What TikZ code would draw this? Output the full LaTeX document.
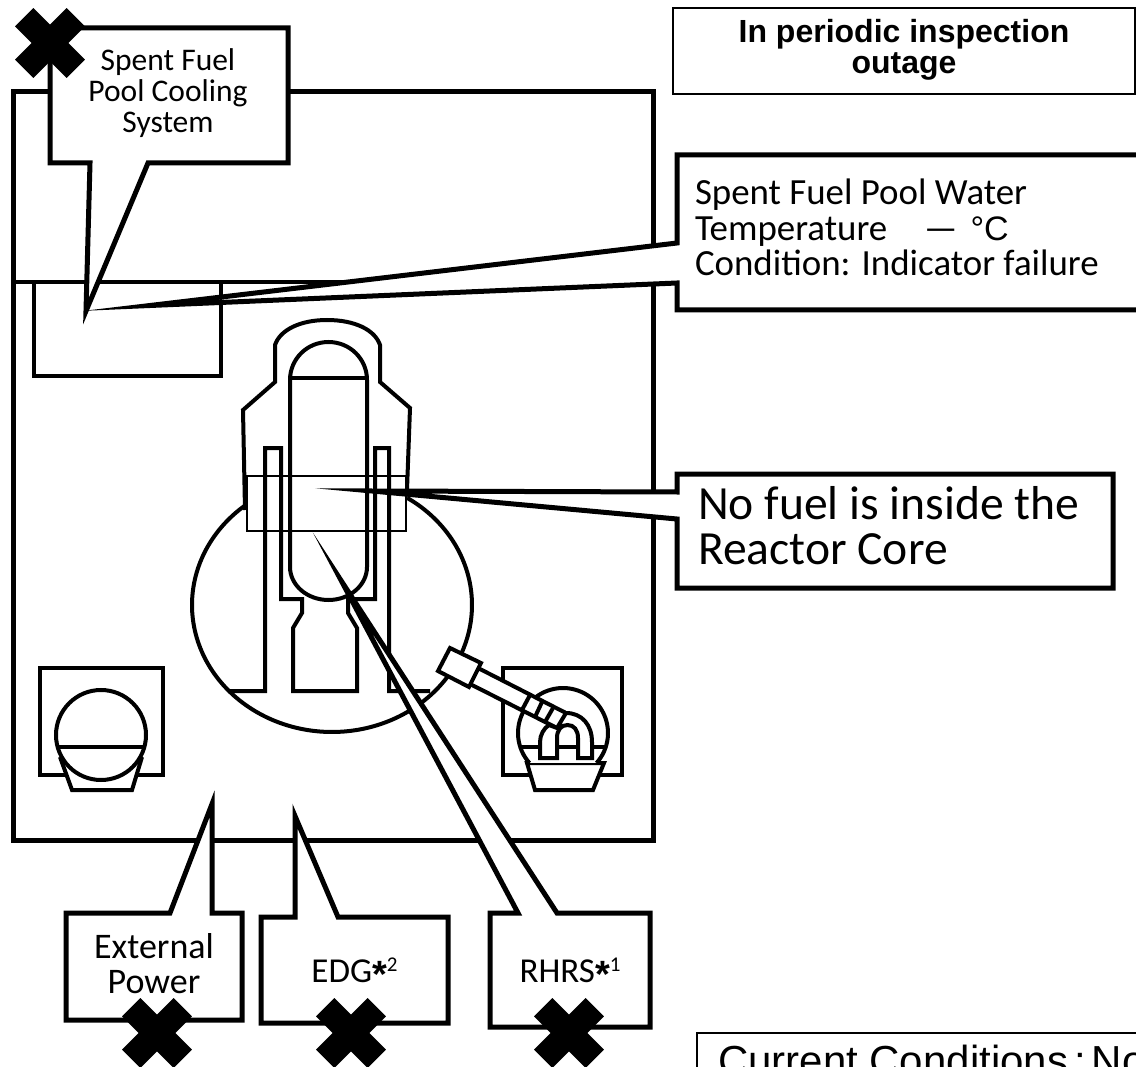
\documentclass[tikz,border=0pt]{standalone}
\usepackage{fontspec}
\setmainfont{Carlito}
\newfontfamily\arialfont{Liberation Sans}
\tikzset{
  wall/.style={draw=black,line width=5pt,line join=miter},
  part/.style={draw=black,line width=4pt,line join=miter},
  thinpart/.style={draw=black,line width=2.8pt},
  callout/.style={draw=black,fill=white,line width=5pt,line join=miter,miter limit=40},
  cross/.style={draw=black,line width=26pt,line cap=butt},
  lbl/.style={inner sep=0pt,outer sep=0pt,align=center,text=black},
  lbll/.style={inner sep=0pt,outer sep=0pt,anchor=base west,text=black},
}
\newcommand{\supmark}[1]{\raisebox{-5pt}{\arialfont\bfseries\fontsize{38}{38}\selectfont *}\raisebox{11pt}{\fontsize{21}{22}\selectfont #1}}
\begin{document}
\begin{tikzpicture}[x=1pt,y=-1pt]
\useasboundingbox (0,0) rectangle (1136,1067);
\clip (0,0) rectangle (1136,1067);
\fill[white] (0,0) rectangle (1136,1067);
% building
\draw[wall] (13,92) rectangle (653,840);
\draw[thinpart,line width=3.4pt] (13,282) -- (653,282);
\draw[part,line width=3.4pt] (34,282) -- (34,376) -- (221,376) -- (221,282);
% top containment
\draw[part] (245,510) -- (243,410) -- (275,382) -- (275,345)
  .. controls (280,330) and (300,320) .. (327,320)
  .. controls (355,320) and (375,330) .. (380,345)
  -- (380,382) -- (410,408) -- (407,490);
% drywell
\draw[part] plot[domain=-57.6:232,samples=90,smooth] ({332+140*cos(\x)},{605+127*sin(\x)});
% vessel
\draw[part] (290,380) .. controls (290,359) and (307,342) .. (328.5,342)
  .. controls (350,342) and (367,359) .. (367,380) -- (367,567)
  .. controls (367,585) and (350,600) .. (328.5,600)
  .. controls (307,600) and (290,585) .. (290,567) -- cycle;
\draw[part] (291,378) -- (366,378);
% pedestal and pillars
\draw[part] (228,691) -- (265,691) -- (265,448) -- (281,448) -- (281,599) -- (302,599) -- (302,613)
  -- (293,628) -- (293,691) -- (357,691) -- (357,628) -- (348,613) -- (348,599) -- (375,599)
  -- (375,448) -- (389,448) -- (389,691) -- (430,691);
% band
\draw[thinpart] (247,476) rectangle (406,531);
% left steam generator
\draw[part] (40,668) rectangle (163,775);
\draw[part,fill=white] (60,757) -- (72,790) -- (132,790) -- (142,757);
\draw[part,fill=white] (101,735) circle[radius=45];
\draw[part] (57,747) -- (145,747);
% right steam generator
\draw[part] (503,668) rectangle (622,775);
\fill[white] (563,733) circle[radius=45];
\draw[part,fill=white] (527,763) -- (535,790) -- (593,790) -- (604,763) -- cycle;
\fill[white] (530,763) rectangle (597,740);
\draw[part] plot[domain=138.2:401.8,samples=60,smooth] ({563+45*cos(\x)},{733+45*sin(\x)});
\draw[part] (520,747) -- (606,747);
% pipe and nozzle
\fill[white] (478,668) -- (566,713) -- (557,728) -- (470,684) -- cycle;
\draw[part] (478,668) -- (566,713);
\draw[part] (470,684) -- (557,728);
\draw[part,fill=white] (450,648) -- (481,663) -- (469,687) -- (438,671) -- cycle;
\draw[part] (530,695) -- (522,710);
\draw[part] (542,702) -- (535,717);
\draw[part] (553,708) -- (545,722);
% U tube
\draw[part,fill=white] (540,758) -- (540,742) .. controls (540,735) and (544,728) .. (549,725)
  -- (557,728) -- (566,713) .. controls (582,713) and (592,725) .. (592,742) -- (592,758)
  -- (578,758) -- (578,738) .. controls (578,730) and (574,725) .. (567.5,725)
  .. controls (561,725) and (557,730) .. (557,738) -- (557,758) -- cycle;
\draw[part] (557,747) -- (578,747);
% callouts
\coordinate (tipWater) at (150,305.5);
\coordinate (tipFuel) at (86,311);
\coordinate (tipCore) at (372,491);
\coordinate (tipExt) at (212,804);
\coordinate (tipEdg) at (295,816);
\coordinate (tipRhr) at (342,582);
\draw[callout] (1150,155) -- (677,155) -- (677,243) -- (tipWater) -- (677,283) -- (677,310) -- (1150,310);
\draw[callout] (50,28) -- (288,28) -- (288,163) -- (148,163) -- (tipFuel) -- (90,163) -- (50,163) -- cycle;
\draw[callout] (677,474) -- (1113,474) -- (1113,588) -- (677,588) -- (677,519) -- (tipCore) -- (677,492) -- cycle;
\draw[callout] (66,913) -- (170,913) -- (tipExt) -- (212,913) -- (242,913) -- (242,1020) -- (66,1020) -- cycle;
\draw[callout] (261,917) -- (295,917) -- (tipEdg) -- (338,917) -- (448,917) -- (448,1023) -- (261,1023) -- cycle;
\draw[callout] (490,913) -- (518,913) -- (tipRhr) -- (557,913) -- (650,913) -- (650,1027) -- (490,1027) -- cycle;
% status boxes
\draw[thinpart] (673,8) rectangle (1135,94);
\draw[thinpart] (1150,1033) -- (697,1033) -- (697,1080);
% crosses
\foreach \cx/\cy in {50/43,157/1033,351/1033,569/1033}{
  \draw[cross] (\cx-25.8,\cy-25.8) -- (\cx+25.8,\cy+25.8);
  \draw[cross] (\cx-25.8,\cy+25.8) -- (\cx+25.8,\cy-25.8);
}
% labels
\node[lbl,font=\fontsize{31.5}{31}\selectfont] (tFuel) at (168,93) {Spent Fuel\\Pool Cooling\\System};
\node[lbl,font=\arialfont\bfseries\fontsize{32}{31}\selectfont] (tOut) at (904,50) {In periodic inspection\\outage};
\node[lbll,font=\fontsize{36.9}{35}\selectfont] (tW1) at (695,205) {Spent Fuel Pool Water};
\node[lbll,font=\fontsize{36.9}{35}\selectfont] (tW2) at (695,241) {Temperature\hspace{37pt}—\hspace{13pt}{\arialfont\fontsize{34}{35}\selectfont °C}};
\node[lbll,font=\fontsize{36.9}{35}\selectfont] (tW3) at (695,276) {Condition: Indicator failure};
\node[lbll,font=\fontsize{47.6}{50}\selectfont] (tC1) at (698,519) {No fuel is inside the};
\node[lbll,font=\fontsize{47.6}{50}\selectfont] (tC2) at (698,564) {Reactor Core};
\node[lbl,font=\fontsize{36}{35}\selectfont] (tExt) at (154,964) {External\\Power};
\node[lbl,anchor=base,font=\fontsize{35}{35}\selectfont] (tEdg) at (354.5,982) {EDG\supmark{2}};
\node[lbl,anchor=base,font=\fontsize{35}{35}\selectfont] (tRhr) at (570,982) {RHRS\supmark{1}};
\node[lbll,font=\arialfont\fontsize{42}{44}\selectfont] (tCur) at (718,1075) {Current Conditions\hspace{6pt}:\hspace{6pt}No};
\end{tikzpicture}
\end{document}
